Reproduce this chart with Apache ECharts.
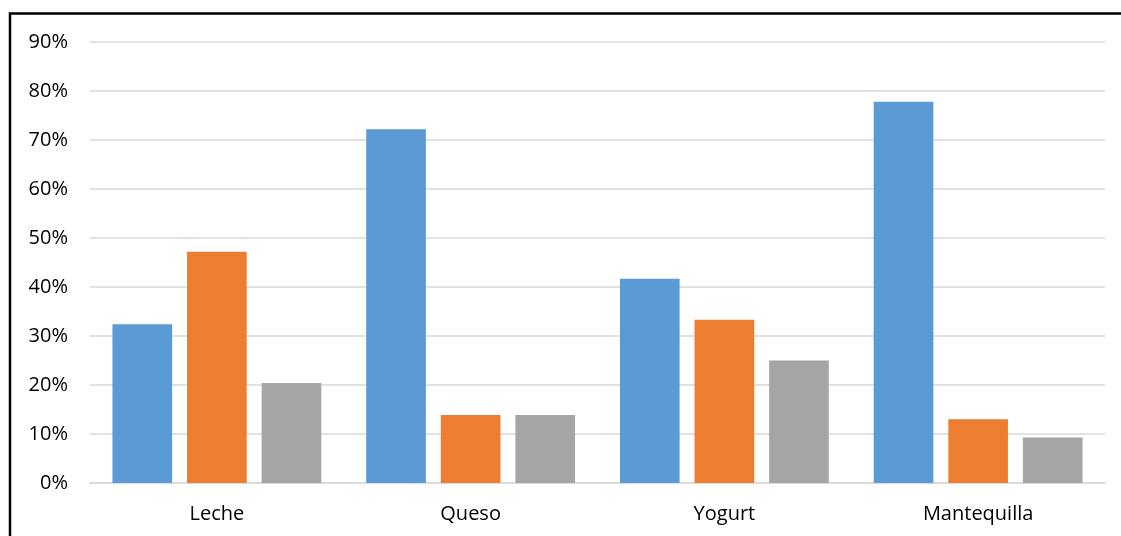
<!DOCTYPE html>
<html style="height: 100%">
<head>
    <meta charset="utf-8">
    <title>Lácteos</title>
</head>
<body style="margin: 0; background: #fff">
<div id="container" style="width: 1121px; height: 536px"></div>

<script src="https://cdn.jsdelivr.net/npm/echarts@6/dist/echarts.min.js" type="text/javascript"></script>

<script type="text/javascript">
    // data (percent)
    var categories = ['Leche', 'Queso', 'Yogurt', 'Mantequilla'];
    var serie1 = [32.4, 72.2, 41.7, 77.8];
    var serie2 = [47.2, 13.9, 33.3, 13.0];
    var serie3 = [20.4, 13.9, 25.0, 9.3];

    var dom = document.getElementById("container");
    var myChart = echarts.init(dom, null, {renderer: 'canvas'});

    var font = '"Open Sans", sans-serif';

    var option = {
        backgroundColor: '#fff',
        animation: false,
        color: ['#5B9BD5', '#ED7D31', '#A5A5A5'],
        graphic: [{
            type: 'rect',
            shape: {x: 10, y: 13.5, width: 1300, height: 700},
            style: {fill: 'none', stroke: '#000', lineWidth: 2.5},
            silent: true
        }],
        grid: {
            left: 90,
            right: 16,
            top: 42,
            bottom: 53
        },
        xAxis: {
            type: 'category',
            data: categories,
            axisTick: {show: false},
            axisLine: {lineStyle: {color: '#D9D9D9', width: 1.5}},
            axisLabel: {
                color: '#000',
                fontFamily: font,
                fontSize: 20,
                margin: 21
            }
        },
        yAxis: {
            type: 'value',
            min: 0,
            max: 90,
            interval: 10,
            axisLine: {show: false},
            axisTick: {show: false},
            splitLine: {lineStyle: {color: '#D9D9D9', width: 1.5}},
            axisLabel: {
                formatter: '{value}%',
                color: '#000',
                fontFamily: font,
                fontSize: 20,
                margin: 22
            }
        },
        series: [{
            name: 'Serie 1',
            type: 'bar',
            data: serie1,
            barGap: '25%',
            barCategoryGap: '17.7%'
        }, {
            name: 'Serie 2',
            type: 'bar',
            data: serie2
        }, {
            name: 'Serie 3',
            type: 'bar',
            data: serie3
        }]
    };

    myChart.setOption(option, true);
</script>
</body>
</html>
